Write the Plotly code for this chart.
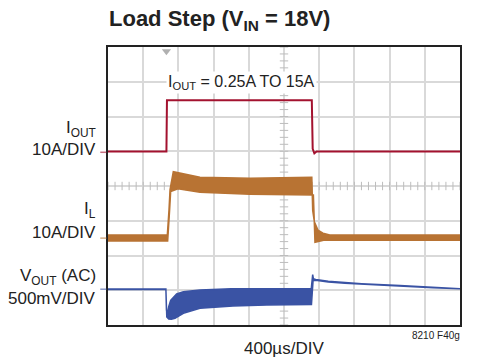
import numpy as np
import plotly.graph_objects as go

# ---------------- data (read from the scope shot) ----------------
# time base: 400 us/div, 10 divisions
time_div_us = 400
n_xdiv = 10
n_ydiv = 8

# I_OUT (A), 10 A/div
t_iout = [0, 664, 670, 2316, 2326, 2345, 2370, 4000]
iout_a = [0.25, 0.25, 15.0, 15.0, 1.0, -0.3, 0.25, 0.25]

# I_L (A), 10 A/div  -> ripple band: upper and lower envelopes
t_il_upper = [0, 674, 693, 705, 742, 780, 850, 1045, 1614, 2316, 2326, 2345, 2386, 2443, 2520, 4000]
il_upper_a = [0.9, 0.9, 8.0, 14.0, 19.1, 18.9, 18.4, 17.5, 17.2, 17.5, 8.0, 4.7, 2.3, 1.4, 0.9, 0.9]
t_il_lower = [0, 678, 700, 712, 795, 1045, 1235, 1614, 2334, 2352, 2450, 4000]
il_lower_a = [-0.8, -0.8, 8.0, 13.4, 14.2, 13.2, 12.9, 12.6, 12.4, -1.2, -0.6, -0.6]

# V_OUT (AC) (mV), 500 mV/div -> envelopes
t_vout_upper = [0, 658, 664, 672, 690, 712, 780, 856, 1045, 1400, 2310, 2326, 2334, 2360, 2503,
                2693, 2883, 3318, 3693, 4000]
vout_upper_mv = [4, 4, -300, -380, -250, -160, -69, -36, -11, 5, 8, 209, 150, 140, 114,
                 97, 80, 52, 29, 15]
t_vout_lower = [0, 658, 668, 690, 720, 761, 856, 1045, 1420, 1803, 2312, 2318, 2330, 2360,
                2503, 2693, 2883, 3318, 3693, 4000]
vout_lower_mv = [-4, -4, -400, -430, -433, -420, -347, -275, -242, -227, -220, -60, 120, 128,
                 104, 87, 70, 42, 20, 7]

# channel settings: (scale per div, ground position in divisions)
iout_scale, iout_gnd = 10.0, 4.97
il_scale, il_gnd = 10.0, 2.5
vout_scale, vout_gnd = 500.0, 1.03

red = "#a3122f"
orange = "#b87333"
blue = "#3a53a4"

def to_div(vals, scale, gnd):
    return [gnd + v / scale for v in vals]

fig = go.Figure()

# center-line minor ticks (graticule)
xt = np.arange(0, n_xdiv * time_div_us + 1, time_div_us / 5)
yt = np.arange(0, n_ydiv + 0.01, 0.2)
fig.add_trace(go.Scatter(x=xt, y=[n_ydiv / 2] * len(xt), mode="markers",
                         marker=dict(symbol="line-ns", size=6, line=dict(width=1, color="#bdbdbd")),
                         hoverinfo="skip", showlegend=False))
fig.add_trace(go.Scatter(x=[n_xdiv * time_div_us / 2] * len(yt), y=yt, mode="markers",
                         marker=dict(symbol="line-ew", size=6, line=dict(width=1, color="#bdbdbd")),
                         hoverinfo="skip", showlegend=False))

# I_OUT
fig.add_trace(go.Scatter(x=t_iout, y=to_div(iout_a, iout_scale, iout_gnd), mode="lines",
                         line=dict(color=red, width=2), hoverinfo="skip", showlegend=False))

# I_L band
x_il = t_il_upper + t_il_lower[::-1]
y_il = to_div(il_upper_a, il_scale, il_gnd) + to_div(il_lower_a, il_scale, il_gnd)[::-1]
fig.add_trace(go.Scatter(x=x_il, y=y_il, mode="lines", fill="toself", fillcolor=orange,
                         line=dict(color=orange, width=1.5), hoverinfo="skip", showlegend=False))

# V_OUT band
x_v = t_vout_upper + t_vout_lower[::-1]
y_v = to_div(vout_upper_mv, vout_scale, vout_gnd) + to_div(vout_lower_mv, vout_scale, vout_gnd)[::-1]
fig.add_trace(go.Scatter(x=x_v, y=y_v, mode="lines", fill="toself", fillcolor=blue,
                         line=dict(color=blue, width=1.5), hoverinfo="skip", showlegend=False))

# trigger marker
fig.add_trace(go.Scatter(x=[t_iout[1]], y=[n_ydiv - 0.12], mode="markers",
                         marker=dict(symbol="triangle-down", size=8, color="#b0b0b0"),
                         cliponaxis=False, hoverinfo="skip", showlegend=False))

# ground markers
for gnd, col in [(iout_gnd, red), (il_gnd, orange), (vout_gnd, blue)]:
    fig.add_shape(type="line", xref="paper", yref="y", x0=-0.022, x1=-0.004, y0=gnd, y1=gnd,
                  line=dict(color=col, width=1.5), opacity=0.6)

txt = "#222222"
sans = "Liberation Sans, Arial, sans-serif"
lab = 17
ann = [
    dict(text="<b>Load Step (V<sub>IN</sub> = 18V)</b>", x=0.317, y=1.097, xref="paper", yref="paper",
         font=dict(family=sans, size=22, color=txt)),
    dict(text="I<sub>OUT</sub> = 0.25A TO 15A", x=1517, y=6.97, xref="x", yref="y",
         font=dict(family=sans, size=16, color=txt), bgcolor="white"),
    dict(text="I<sub>OUT</sub>", x=-0.028, y=(325 - 128.5) / 278 * 8, xanchor="right",
         font=dict(family=sans, size=lab, color=txt)),
    dict(text="10A/DIV", x=-0.028, y=(325 - 149) / 278 * 8, xanchor="right",
         font=dict(family=sans, size=lab, color=txt)),
    dict(text="I<sub>L</sub>", x=-0.028, y=(325 - 210) / 278 * 8, xanchor="right",
         font=dict(family=sans, size=lab, color=txt)),
    dict(text="10A/DIV", x=-0.028, y=(325 - 232) / 278 * 8, xanchor="right",
         font=dict(family=sans, size=lab, color=txt)),
    dict(text="V<sub>OUT</sub> (AC)", x=-0.028, y=(325 - 277) / 278 * 8, xanchor="right",
         font=dict(family=sans, size=lab, color=txt)),
    dict(text="500mV/DIV", x=-0.028, y=(325 - 298.5) / 278 * 8, xanchor="right",
         font=dict(family=sans, size=lab, color=txt)),
    dict(text="400µs/DIV", x=0.5, y=-0.083, xref="paper", yref="paper",
         font=dict(family=sans, size=17, color=txt)),
    dict(text="8210 F40g", x=1.005, y=-0.036, xref="paper", yref="paper", xanchor="right",
         font=dict(family=sans, size=10, color=txt)),
]
for a in ann:
    a.setdefault("xref", "paper")
    a.setdefault("yref", "y")
    a.setdefault("xanchor", "center")
    a.setdefault("yanchor", "middle")
    a["showarrow"] = False
    fig.add_annotation(**a)

axis_common = dict(showticklabels=False, ticks="", zeroline=False, showgrid=True,
                   gridcolor="#d9d9d9", gridwidth=1.5, showline=True, mirror=True,
                   linecolor="#222222", linewidth=2, fixedrange=True)
fig.update_xaxes(range=[0, n_xdiv * time_div_us], tick0=0, dtick=time_div_us, **axis_common)
fig.update_yaxes(range=[0, n_ydiv], tick0=0, dtick=1, **axis_common)

fig.update_layout(width=478, height=360, margin=dict(l=108, r=18, t=47, b=35),
                  paper_bgcolor="white", plot_bgcolor="white", showlegend=False)

fig.write_html("out.html", config={"displayModeBar": False},
               post_script="document.body.style.margin='0';")
